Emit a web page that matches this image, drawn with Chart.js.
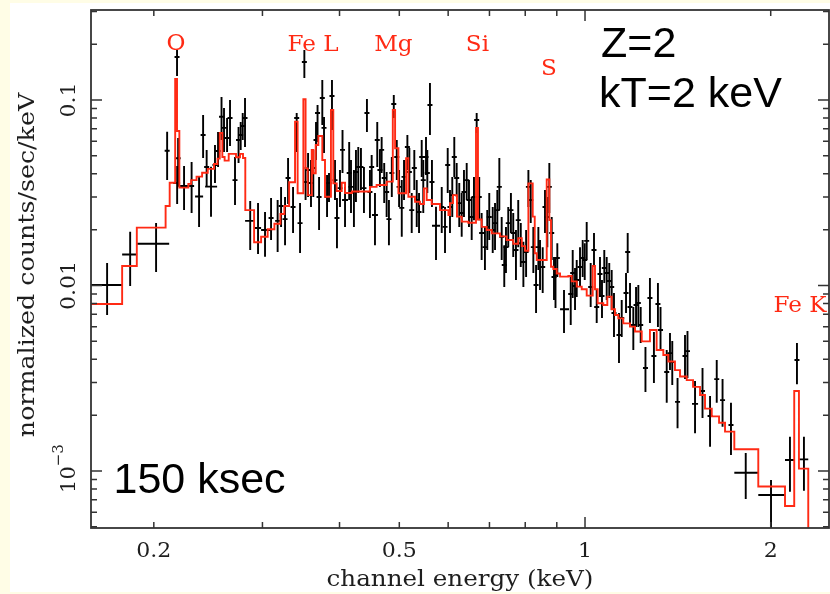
<!DOCTYPE html>
<html lang="en">
<head>
<meta charset="utf-8">
<title>Simulated X-ray spectrum, Z=2, kT=2 keV</title>
<script src="https://cdn.jsdelivr.net/npm/chart.js@4.4.1/dist/chart.umd.min.js"></script>
<style>
  html, body { margin: 0; padding: 0; background: #fffde6; }
  canvas { display: block; }
</style>
</head>
<body>
<canvas id="spectrum" width="830" height="594"></canvas>
<script>
// ---------- data (keV, normalized counts/sec/keV) ----------

// grouped channels with a visible energy width
const binEnergy   = [0.1680,0.1831,0.2017,0.2182,0.2239,0.2368,0.2476,0.2866,0.2951,0.3029,0.4083,0.4566,0.5734,0.9246,1.5078,1.8219,2.0022,2.1489,2.2640];
const binLow      = [0.1582,0.1777,0.1879,0.2150,0.2206,0.2333,0.2422,0.2812,0.2908,0.2985,0.4038,0.4516,0.5649,0.9110,1.4909,1.7459,1.9093,2.1096,2.2221];
const binHigh     = [0.1777,0.1879,0.2118,0.2206,0.2273,0.2404,0.2533,0.2908,0.2985,0.3110,0.4129,0.4617,0.5821,0.9420,1.5249,1.9093,2.1096,2.1834,2.3008];
const binFlux     = [0.01006,0.01469,0.0168,0.0357,0.0344,0.0302,0.0341,0.0223,0.0204,0.0199,0.0289,0.0240,0.0210,0.00745,0.00230,0.000979,0.000743,0.001147,0.001156];
const binFluxLow  = [0.00693,0.00994,0.01183,0.0275,0.0255,0.0207,0.0235,0.01553,0.01478,0.01430,0.0207,0.0165,0.01372,0.00554,0.00160,0.000706,0.0004,0.000773,0.000783];
const binFluxHigh = [0.01322,0.01950,0.0217,0.0441,0.0441,0.0386,0.0437,0.0285,0.0278,0.0249,0.0340,0.0315,0.0266,0.00946,0.00306,0.00125,0.000894,0.00153,0.00153];

// narrow channels
const chanEnergy = [
  0.2102,0.2181,0.2190,0.2303,0.2404,0.2436,0.2513,0.2542,0.2575,0.2599,
  0.2629,0.2658,0.2708,0.2744,0.2766,0.2787,0.2811,0.3098,0.3175,0.3216,
  0.3264,0.3301,0.3363,0.3409,0.3452,0.3508,0.3524,0.3557,0.3596,0.3627,
  0.3664,0.3685,0.3706,0.3751,0.3775,0.3818,0.3846,0.3889,0.3933,0.3962,
  0.4007,0.4045,0.4147,0.4175,0.4221,0.4253,0.4290,0.4333,0.4382,0.4431,
  0.4481,0.4510,0.4605,0.4651,0.4681,0.4726,0.4769,0.4810,0.4862,0.4898,
  0.4953,0.4996,0.5046,0.5089,0.5153,0.5191,0.5237,0.5288,0.5336,0.5382,
  0.5436,0.5468,0.5524,0.5551,0.5606,0.5648,0.5858,0.5930,0.5990,0.6041,
  0.6093,0.6139,0.6194,0.6254,0.6311,0.6365,0.6430,0.6485,0.6551,0.6607,
  0.6674,0.6738,0.6799,0.6883,0.6943,0.6995,0.7086,0.7147,0.7209,0.7263,
  0.7327,0.7398,0.7445,0.7509,0.7584,0.7650,0.7728,0.7794,0.7868,0.7945,
  0.8026,0.8095,0.8166,0.8246,0.8330,0.8402,0.8454,0.8539,0.8613,0.8688,
  0.8753,0.8831,0.8907,0.8957,0.9018,0.9481,0.9551,0.9634,0.9695,0.9815,
  0.9914,0.9989,1.0063,1.0214,1.0341,1.0446,1.0575,1.0654,1.0746,1.0843,
  1.0947,1.1047,1.1142,1.1352,1.1468,1.1654,1.1727,1.1829,1.1976,1.2098,
  1.2202,1.2310,1.2531,1.2742,1.2933,1.3128,1.3256,1.3566,1.3732,1.3850,
  1.4125,1.4524,1.4659,1.5505,1.5947,1.6350,1.6709,1.7243,2.2058
];
const chanFlux = [
  0.0533,0.1705,0.0485,0.0344,0.0648,0.0435,0.0446,0.0531,0.0812,0.0707,
  0.0624,0.0800,0.0370,0.0609,0.0648,0.0724,0.0800,0.0231,0.0223,0.0268,
  0.0228,0.0380,0.0265,0.0800,0.0217,0.1603,0.0361,0.0419,0.0357,0.0430,
  0.0609,0.0851,0.0300,0.1025,0.0707,0.0300,0.0357,0.1051,0.0370,0.0231,
  0.0335,0.0538,0.0404,0.0340,0.0319,0.0409,0.0435,0.0435,0.0335,0.0851,
  0.0319,0.0435,0.0609,0.0419,0.0538,0.0380,0.0319,0.0228,0.0404,0.0952,
  0.0493,0.0340,0.0262,0.0385,0.0558,0.0409,0.0255,0.0430,0.0289,0.0249,
  0.0493,0.0370,0.0493,0.0404,0.0940,0.0361,0.0265,0.0207,0.0446,0.0265,
  0.0307,0.0493,0.0380,0.0278,0.0246,0.0319,0.0370,0.0289,0.0234,0.0300,
  0.0780,0.0300,0.0192,0.0161,0.0207,0.0234,0.0199,0.0217,0.0255,0.0340,
  0.0183,0.01290,0.0161,0.0217,0.0255,0.0192,0.01553,0.0225,0.0169,0.01338,
  0.01516,0.0340,0.0289,0.0161,0.01006,0.0161,0.01372,0.01258,0.0265,0.0234,
  0.0340,0.0192,0.01111,0.01139,0.01406,0.00900,0.01168,0.00994,0.01070,0.01258,
  0.01406,0.01372,0.0174,0.00982,0.01553,0.00766,0.01153,0.00878,0.01242,0.01168,
  0.01057,0.00982,0.00711,0.00541,0.00668,0.00911,0.01516,0.00766,0.00612,0.00785,
  0.00805,0.00612,0.00359,0.00856,0.00417,0.00795,0.00576,0.00342,0.00432,0.00387,
  0.00236,0.00417,0.00443,0.00270,0.00198,0.00313,0.00241,0.00177,0.00397
];
const chanFluxHigh = [
  0.0675,0.1860,0.0624,0.0463,0.0830,0.0538,0.0572,0.0672,0.1038,0.0906,
  0.0800,0.1000,0.0493,0.0715,0.0761,0.0851,0.1025,0.0296,0.0289,0.0340,
  0.0300,0.0487,0.0340,0.0851,0.0278,0.1860,0.0435,0.0518,0.0475,0.0538,
  0.0761,0.0940,0.0385,0.1282,0.0810,0.0394,0.0404,0.1282,0.0475,0.0296,
  0.0419,0.0689,0.0594,0.0475,0.0419,0.0538,0.0558,0.0551,0.0435,0.1012,
  0.0419,0.0505,0.0761,0.0538,0.0632,0.0457,0.0409,0.0289,0.0493,0.1064,
  0.0609,0.0419,0.0370,0.0475,0.0648,0.0551,0.0315,0.0538,0.0370,0.0315,
  0.0609,0.0475,0.0632,0.0538,0.1235,0.0475,0.0340,0.0265,0.0551,0.0327,
  0.0385,0.0632,0.0457,0.0357,0.0315,0.0419,0.0457,0.0370,0.0300,0.0385,
  0.0851,0.0385,0.0246,0.0207,0.0255,0.0315,0.0265,0.0278,0.0327,0.0487,
  0.0234,0.0165,0.0207,0.0265,0.0315,0.0246,0.0199,0.0289,0.0217,0.0172,
  0.0199,0.0419,0.0370,0.0207,0.01290,0.0207,0.0176,0.0161,0.0327,0.0300,
  0.0457,0.0234,0.01424,0.01424,0.0169,0.01111,0.01553,0.01242,0.01372,0.0161,
  0.0176,0.0169,0.0220,0.01322,0.0192,0.00946,0.01424,0.01070,0.01553,0.01424,
  0.01322,0.01212,0.00911,0.00711,0.00835,0.01168,0.0192,0.01031,0.00766,0.00982,
  0.01006,0.00766,0.00466,0.01097,0.00562,0.01031,0.00766,0.00449,0.00555,0.00502,
  0.00317,0.00541,0.00569,0.00359,0.00254,0.00397,0.00313,0.00233,0.00490
];
const chanFluxLow = [
  0.0370,0.1347,0.0341,0.0246,0.0487,0.0344,0.0357,0.0435,0.0609,0.0524,
  0.0524,0.0565,0.0272,0.0457,0.0538,0.0609,0.0558,0.0176,0.01516,0.0207,
  0.0165,0.0275,0.0192,0.0524,0.01497,0.1314,0.0289,0.0300,0.0265,0.0300,
  0.0475,0.0594,0.0199,0.0733,0.0518,0.0234,0.0282,0.0689,0.0289,0.0159,
  0.0265,0.0404,0.0289,0.0246,0.0207,0.0282,0.0315,0.0327,0.0246,0.0672,
  0.0231,0.0340,0.0435,0.0340,0.0404,0.0278,0.0234,0.0165,0.0300,0.0800,
  0.0370,0.0265,0.0183,0.0289,0.0419,0.0315,0.0192,0.0327,0.0207,0.0192,
  0.0385,0.0246,0.0394,0.0315,0.0648,0.0265,0.0192,0.01497,0.0315,0.0192,
  0.0234,0.0385,0.0300,0.0207,0.0183,0.0234,0.0289,0.0207,0.0176,0.0225,
  0.0664,0.0225,0.01372,0.01212,0.01553,0.0176,0.01497,0.01553,0.0192,0.0255,
  0.01372,0.00982,0.01168,0.0161,0.0192,0.01424,0.01070,0.0161,0.01258,0.00982,
  0.01111,0.0265,0.0217,0.01168,0.00711,0.01212,0.00946,0.00911,0.0192,0.0161,
  0.0246,0.01372,0.00835,0.00756,0.01111,0.00612,0.00856,0.00738,0.00867,0.00982,
  0.01111,0.01070,0.01372,0.00766,0.01258,0.00628,0.00867,0.00668,0.01031,0.00835,
  0.00856,0.00738,0.00528,0.00382,0.00528,0.00711,0.01168,0.00597,0.00449,0.00597,
  0.00597,0.00490,0.00267,0.00628,0.00298,0.00597,0.00443,0.00233,0.00350,0.00291,
  0.00170,0.00313,0.00317,0.00193,0.00135,0.00233,0.00173,0.00122,0.00294
];

// folded model: left edge of each step and its level
const modelEdges = [
  0.155,0.1777,0.1877,0.2090,0.2122,0.2166,0.2181,0.2200,0.2275,0.2299,
  0.2346,0.2395,0.2446,0.2504,0.2537,0.2558,0.2583,0.2605,0.2645,0.2718,
  0.2759,0.2790,0.2814,0.2908,0.2985,0.3059,0.3137,0.3208,0.3256,0.3314,
  0.3388,0.3421,0.3495,0.3524,0.3552,0.3606,0.3627,0.3660,0.3696,0.3751,
  0.3789,0.3874,0.3908,0.3958,0.4033,0.4083,0.4190,0.4481,0.4594,0.4769,
  0.4880,0.4922,0.4983,0.5128,0.5172,0.5302,0.5401,0.5482,0.5538,0.5642,
  0.5821,0.6006,0.6041,0.6109,0.6201,0.6311,0.6468,0.6657,0.6706,0.6799,
  0.6927,0.7060,0.7280,0.7464,0.7650,0.7794,0.7898,0.7996,0.8095,0.8227,
  0.8289,0.8351,0.8668,0.8753,0.8808,0.8884,0.8997,0.9110,0.9397,0.9516,
  0.9695,0.9878,1.0063,1.0291,1.0380,1.0483,1.0706,1.0868,1.1047,1.1183,
  1.1323,1.1536,1.1829,1.2051,1.2357,1.2742,1.3064,1.3395,1.3648,1.3990,
  1.4256,1.4617,1.4967,1.5361,1.5650,1.6049,1.6492,1.6864,1.7459,1.9093,
  2.1096,2.1834,2.2221,2.3008,2.60
];
const modelFlux = [
  0.00795,0.01274,0.0205,0.0268,0.0358,0.1298,0.0681,0.0337,0.0353,0.0370,
  0.0386,0.0405,0.0425,0.0452,0.0483,0.0664,0.0493,0.0471,0.0512,0.0491,
  0.0512,0.0487,0.0255,0.0171,0.0183,0.0201,0.0215,0.0243,0.0268,0.0360,
  0.0764,0.0314,0.1009,0.0428,0.0307,0.0538,0.0403,0.0572,0.0640,0.0475,
  0.0301,0.0883,0.0355,0.0323,0.0358,0.0315,0.0321,0.0340,0.0348,0.0363,
  0.0883,0.0549,0.0314,0.0485,0.0301,0.0283,0.0275,0.0334,0.0289,0.0275,
  0.0255,0.0240,0.0278,0.0307,0.0235,0.0221,0.0218,0.0707,0.0227,0.0207,
  0.0199,0.0191,0.0184,0.0176,0.0168,0.0180,0.0163,0.0154,0.0355,0.0235,
  0.01493,0.01372,0.0373,0.0225,0.01263,0.01227,0.01160,0.01116,0.01125,0.01053,
  0.00986,0.00954,0.00882,0.01274,0.00954,0.00802,0.00785,0.00871,0.00745,0.00693,
  0.00665,0.00625,0.00600,0.00565,0.00500,0.00576,0.00449,0.00422,0.00389,0.00350,
  0.00323,0.00309,0.00284,0.00257,0.00217,0.00197,0.00182,0.00163,0.00131,0.000825,
  0.000648,0.00270,0.00103,0.0002,0.0002
];

// axes
const xTickValues = [0.2, 0.5, 1, 2];
const xTickLabels = ['0.2', '0.5', '1', '2'];
const yTickValues = [0.1, 0.01, 0.001];
const yTickLabels = ['0.1', '0.01', '10^\u22123'];

// emission line identifications
const lineNames    = ['O', 'Fe L', 'Mg', 'Si', 'S', 'Fe K'];
const lineEnergies = [0.2173, 0.3623, 0.4891, 0.6694, 0.8742, 2.2307];

// ---------- styling / layout ----------
const RED = '#ff2a14';
const INK = '#000000';
const AXIS = '#333333';
const LABEL_INK = '#1e1e1e';
const SERIF = '"DejaVu Serif", serif';
const SANS = '"Liberation Sans", Arial, sans-serif';
const lineLabelLevels = [0.186, 0.1837, 0.1837, 0.1837, 0.1364, 0.00722];

function drawText(ctx, text, x, y, o) {
  ctx.save();
  ctx.translate(x, y);
  if (o.rotate) ctx.rotate(o.rotate);
  ctx.scale(o.stretch || 1, 1);
  ctx.font = o.font;
  ctx.fillStyle = o.color || LABEL_INK;
  ctx.textAlign = o.align || 'center';
  ctx.textBaseline = 'alphabetic';
  ctx.fillText(text, 0, 0);
  ctx.restore();
}

const backdrop = {
  id: 'backdrop',
  beforeDraw(chart) {
    const ctx = chart.ctx;
    ctx.save();
    ctx.fillStyle = '#fffde6';
    ctx.fillRect(0, 0, chart.width, chart.height);
    ctx.fillStyle = '#ffffff';
    ctx.fillRect(10, 3, chart.width - 10, chart.height - 5);
    ctx.restore();
  }
};

// vertical = flux uncertainty, horizontal = channel width
const errorBars = {
  id: 'errorBars',
  beforeDatasetsDraw(chart) {
    const { ctx, chartArea: a, scales: { x, y } } = chart;
    ctx.save();
    ctx.beginPath();
    ctx.rect(a.left, a.top, a.right - a.left, a.bottom - a.top);
    ctx.clip();
    ctx.strokeStyle = INK;
    ctx.lineWidth = 1.9;
    chart.data.datasets.forEach(ds => {
      if (!ds.errorBars) return;
      ds.data.forEach(p => {
        const px = x.getPixelForValue(p.x);
        const py = y.getPixelForValue(p.y);
        const x1 = p.xMin != null ? x.getPixelForValue(p.xMin) : px - 2.5;
        const x2 = p.xMax != null ? x.getPixelForValue(p.xMax) : px + 2.5;
        ctx.beginPath();
        ctx.moveTo(px, y.getPixelForValue(p.yMax));
        ctx.lineTo(px, y.getPixelForValue(p.yMin));
        ctx.moveTo(x1, py);
        ctx.lineTo(x2, py);
        ctx.stroke();
      });
    });
    ctx.restore();
  }
};

// box, inward ticks on all four sides, labels and annotations
const frame = {
  id: 'frame',
  afterDatasetsDraw(chart) {
    const { ctx, chartArea: a, scales: { x, y } } = chart;
    ctx.save();
    ctx.strokeStyle = AXIS;
    ctx.lineWidth = 1.5;
    ctx.beginPath();
    for (let e = -4; e <= 1; e++) {
      for (let m = 1; m <= 9; m++) {
        const v = m * Math.pow(10, e);
        const len = m === 1 ? 11 : 6;
        if (v > x.min && v < x.max) {
          const p = x.getPixelForValue(v);
          ctx.moveTo(p, a.bottom); ctx.lineTo(p, a.bottom - len);
          ctx.moveTo(p, a.top);    ctx.lineTo(p, a.top + len);
        }
        if (v > y.min && v < y.max) {
          const p = y.getPixelForValue(v);
          ctx.moveTo(a.left, p);  ctx.lineTo(a.left + len, p);
          ctx.moveTo(a.right, p); ctx.lineTo(a.right - len, p);
        }
      }
    }
    ctx.stroke();
    ctx.lineWidth = 1.8;
    ctx.strokeRect(a.left, a.top, a.right - a.left, a.bottom - a.top);
    ctx.restore();

    // x tick labels
    xTickValues.forEach((v, i) => {
      drawText(ctx, xTickLabels[i], x.getPixelForValue(v), a.bottom + 28.5,
        { font: '21px ' + SERIF, stretch: 1.05 });
    });

    // y tick labels, written bottom-to-top
    yTickValues.forEach((v, i) => {
      const py = y.getPixelForValue(v);
      const lbl = yTickLabels[i];
      if (lbl.indexOf('^') < 0) {
        drawText(ctx, lbl, a.left - 16, py, { font: '21px ' + SERIF, rotate: -Math.PI / 2, stretch: 1.05 });
        return;
      }
      const [base, exp] = lbl.split('^');
      ctx.save();
      ctx.translate(a.left - 16, py);
      ctx.rotate(-Math.PI / 2);
      ctx.fillStyle = LABEL_INK;
      ctx.textAlign = 'left';
      ctx.textBaseline = 'alphabetic';
      ctx.font = '21px ' + SERIF;
      const w1 = ctx.measureText(base).width;
      ctx.font = '15px ' + SERIF;
      const w2 = ctx.measureText(exp).width;
      const start = 2.5 - (w1 + w2) / 2;
      ctx.font = '21px ' + SERIF;
      ctx.fillText(base, start, 0);
      ctx.font = '15px ' + SERIF;
      ctx.fillText(exp, start + w1, -12);
      ctx.restore();
    });

    // axis titles
    drawText(ctx, 'channel energy (keV)', (a.left + a.right) / 2, a.bottom + 58,
      { font: '23px ' + SERIF, stretch: 1.07 });
    drawText(ctx, 'normalized counts/sec/keV', 34, 265,
      { font: '23px ' + SERIF, stretch: 1.1, rotate: -Math.PI / 2 });

    // line identifications
    lineNames.forEach((name, i) => {
      drawText(ctx, name, x.getPixelForValue(lineEnergies[i]), y.getPixelForValue(lineLabelLevels[i]),
        { font: '22px ' + SERIF, color: RED, stretch: 1.05 });
    });

    // simulation parameters
    ctx.save();
    ctx.fillStyle = INK;
    ctx.font = '43px ' + SANS;
    ctx.textAlign = 'left';
    ctx.textBaseline = 'alphabetic';
    ctx.fillText('Z=2', 601, 56.7);
    ctx.fillText('kT=2 keV', 599, 107.3);
    ctx.fillText('150 ksec', 113.5, 493.3);
    ctx.restore();
  }
};

const binPoints = binEnergy.map((e, i) => ({
  x: e, y: binFlux[i], xMin: binLow[i], xMax: binHigh[i], yMin: binFluxLow[i], yMax: binFluxHigh[i]
}));
const chanPoints = chanEnergy.map((e, i) => ({
  x: e, y: chanFlux[i], yMin: chanFluxLow[i], yMax: chanFluxHigh[i]
}));
const modelPoints = modelEdges.map((e, i) => ({ x: e, y: modelFlux[i] }));

new Chart(document.getElementById('spectrum'), {
  type: 'scatter',
  data: {
    datasets: [
      {
        label: 'model',
        data: modelPoints,
        showLine: true,
        stepped: true,
        borderColor: RED,
        borderWidth: 1.9,
        pointRadius: 0,
        fill: false
      },
      { label: 'channels', data: chanPoints, errorBars: true, pointRadius: 0 },
      { label: 'grouped channels', data: binPoints, errorBars: true, pointRadius: 0 }
    ]
  },
  options: {
    responsive: false,
    animation: false,
    devicePixelRatio: 1,
    events: [],
    layout: { padding: { left: 91, top: 10, right: 1, bottom: 66 } },
    plugins: { legend: { display: false }, tooltip: { enabled: false } },
    scales: {
      x: { type: 'logarithmic', bounds: 'data', min: 0.1582, max: 2.486, display: false },
      y: { type: 'logarithmic', bounds: 'data', min: 0.000493, max: 0.3055, display: false }
    }
  },
  plugins: [backdrop, errorBars, frame]
});
</script>
</body>
</html>
